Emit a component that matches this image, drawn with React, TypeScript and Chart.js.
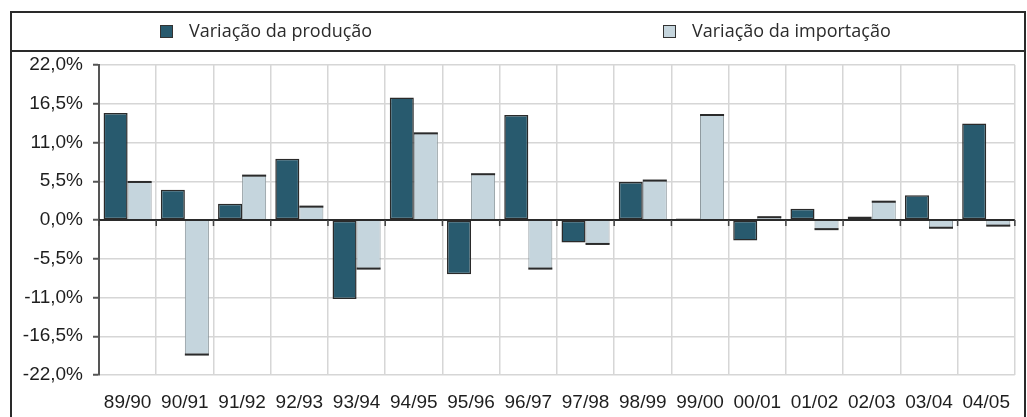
import React, { useEffect, useRef } from 'react';
import { Chart, registerables } from 'chart.js';

Chart.register(...registerables);

const categories = ['89/90', '90/91', '91/92', '92/93', '93/94', '94/95', '95/96', '96/97', '97/98', '98/99', '99/00', '00/01', '01/02', '02/03', '03/04', '04/05'];
const producao = [15.2, 4.3, 2.3, 8.7, -11.2, 17.4, -7.7, 14.9, -3.2, 5.4, 0.2, -2.9, 1.6, 0.5, 3.5, 13.7];
const importacao = [5.4, -19.1, 6.3, 1.9, -6.9, 12.3, 6.5, -6.9, -3.4, 5.6, 14.9, 0.4, -1.3, 2.6, -1.1, -0.8];
const yTicks = [-22, -16.5, -11, -5.5, 0, 5.5, 11, 16.5, 22];
const seriesLabels = ['Variação da produção', 'Variação da importação'];

const PROD_COLOR = '#285a6e';
const IMP_COLOR = '#c5d5dd';
const DARK = '#2a2a2a';

const fmt = (v: number) => {
  const n = Math.abs(v) < 1e-9 ? 0 : v;
  return n.toFixed(1).replace('.', ',') + '%';
};

const overlay = {
  id: 'overlay',
  afterDatasetsDraw(chart: any) {
    const { ctx, chartArea, scales } = chart;
    const xs = scales.x;
    const ys = scales.y;
    const y0 = ys.getPixelForValue(0);
    ctx.save();
    // dark end caps on import bars
    const meta = chart.getDatasetMeta(1);
    ctx.strokeStyle = DARK;
    ctx.lineWidth = 2;
    meta.data.forEach((bar: any) => {
      const p = bar.getProps(['x', 'y', 'width'], true);
      ctx.beginPath();
      ctx.moveTo(p.x - p.width / 2, p.y);
      ctx.lineTo(p.x + p.width / 2, p.y);
      ctx.stroke();
    });
    // zero line
    ctx.strokeStyle = DARK;
    ctx.lineWidth = 2;
    ctx.beginPath();
    ctx.moveTo(chartArea.left, y0);
    ctx.lineTo(chartArea.right, y0);
    ctx.stroke();
    // tick marks under zero line at category boundaries
    const half = categories.length > 1 ? (xs.getPixelForTick(1) - xs.getPixelForTick(0)) / 2 : 0;
    ctx.lineWidth = 1.5;
    ctx.strokeStyle = '#444';
    for (let i = 0; i <= categories.length; i++) {
      const px = i < categories.length ? xs.getPixelForTick(i) - half : xs.getPixelForTick(i - 1) + half;
      ctx.beginPath();
      ctx.moveTo(px, y0);
      ctx.lineTo(px, y0 + 6);
      ctx.stroke();
    }
    ctx.restore();
  },
};

export default function App() {
  const canvasRef = useRef<HTMLCanvasElement | null>(null);

  useEffect(() => {
    if (!canvasRef.current) return;
    const chart = new Chart(canvasRef.current, {
      type: 'bar',
      data: {
        labels: categories,
        datasets: [
          {
            label: seriesLabels[0],
            data: producao,
            backgroundColor: PROD_COLOR,
            borderColor: DARK,
            borderWidth: 1.5,
            borderSkipped: false,
            categoryPercentage: 0.84,
            barPercentage: 1.0,
          },
          {
            label: seriesLabels[1],
            data: importacao,
            backgroundColor: IMP_COLOR,
            borderColor: '#8e999e',
            borderWidth: 1,
            borderSkipped: 'start',
            categoryPercentage: 0.84,
            barPercentage: 1.0,
          },
        ],
      },
      options: {
        responsive: false,
        animation: false,
        devicePixelRatio: 1,
        layout: { padding: { top: 65, left: 0, right: 0, bottom: 0 } },
        plugins: {
          legend: { display: false },
          tooltip: { enabled: false },
          title: { display: false },
        },
        scales: {
          x: {
            grid: {
              color: '#d6d6d6',
              lineWidth: 1.5,
              drawTicks: false,
              offset: true,
            },
            border: { display: false },
            ticks: {
              color: '#1e1e1e',
              padding: 16,
              maxRotation: 0,
              autoSkip: false,
              font: { family: '"Liberation Sans", Arial, sans-serif', size: 19 },
            },
            afterFit: (s: any) => {
              s.height = 42;
            },
          },
          y: {
            min: -22,
            max: 22,
            afterBuildTicks: (s: any) => {
              s.ticks = yTicks.map((v) => ({ value: v }));
            },
            grid: {
              color: '#d6d6d6',
              lineWidth: 1.5,
              tickLength: 6,
              tickColor: '#555',
              tickWidth: 2,
            },
            border: { display: true, color: '#555', width: 2 },
            ticks: {
              color: '#1e1e1e',
              padding: 10,
              font: { family: '"Liberation Sans", Arial, sans-serif', size: 19 },
              callback: (v: any) => fmt(Number(v)),
            },
            afterFit: (s: any) => {
              s.width = 99;
            },
          },
        },
      },
      plugins: [overlay],
    });
    return () => chart.destroy();
  }, []);

  const legendText: React.CSSProperties = {
    position: 'absolute',
    top: 18,
    fontFamily: '"Open Sans", "Noto Sans", sans-serif',
    fontSize: 18,
    lineHeight: '24px',
    color: '#2b2b2b',
    whiteSpace: 'nowrap',
  };
  const square = (left: number, color: string): React.CSSProperties => ({
    position: 'absolute',
    left,
    top: 25,
    width: 13,
    height: 13,
    boxSizing: 'border-box',
    background: color,
    border: '1px solid #333',
  });

  return (
    <div style={{ position: 'fixed', left: 0, top: 0, width: 1027, height: 417, overflow: 'hidden', background: '#fff' }}>
      <canvas
        ref={canvasRef}
        width={1026}
        height={417}
        style={{ position: 'absolute', left: 0, top: 0, width: 1026, height: 417 }}
      />
      <div
        style={{
          position: 'absolute',
          left: 10,
          top: 11,
          width: 1016,
          height: 430,
          boxSizing: 'border-box',
          border: '2px solid #2a2a2a',
          pointerEvents: 'none',
        }}
      />
      <div
        style={{
          position: 'absolute',
          left: 10,
          top: 50,
          width: 1016,
          height: 2,
          background: '#2a2a2a',
        }}
      />
      <div style={square(160, PROD_COLOR)} />
      <div style={{ ...legendText, left: 189 }}>{seriesLabels[0]}</div>
      <div style={square(663, IMP_COLOR)} />
      <div style={{ ...legendText, left: 692 }}>{seriesLabels[1]}</div>
    </div>
  );
}
